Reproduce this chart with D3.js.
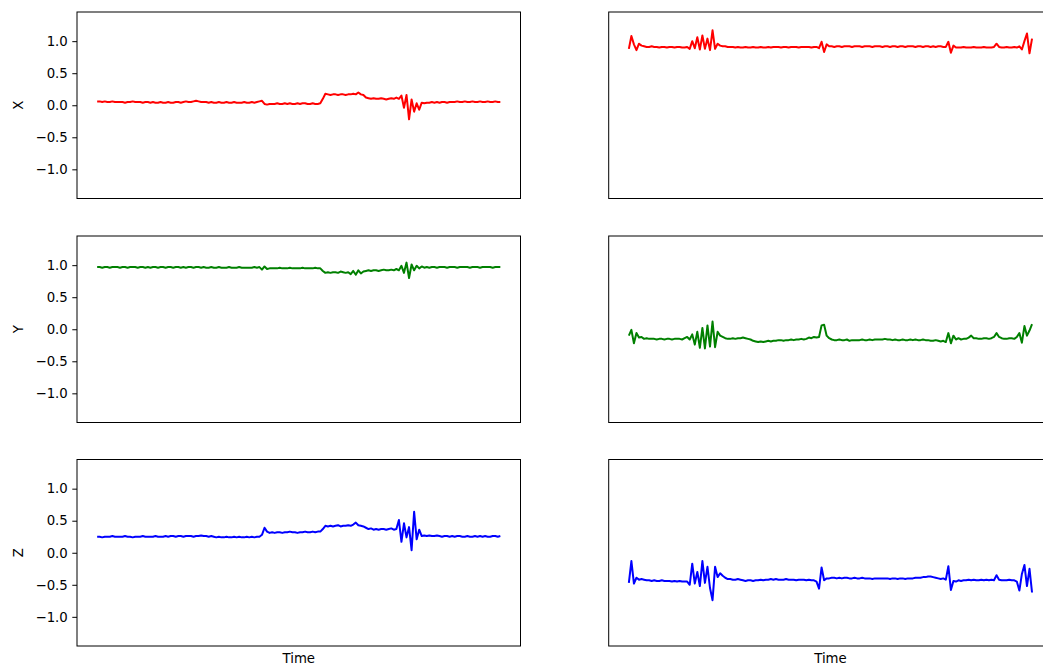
<!DOCTYPE html>
<html>
<head>
<meta charset="utf-8">
<script src="https://cdn.jsdelivr.net/npm/d3@7"></script>
<style>
  body { margin: 0; background: #fff; }
  svg { display: block; font-family: "DejaVu Sans", sans-serif; }
</style>
</head>
<body>
<svg id="chart" width="1043" height="666"></svg>
<script>
// accelerometer traces, two recordings side by side
const axisNames = ["X", "Y", "Z"]
const colors = ["#ff0000", "#008000", "#0000ff"]
const yTicks = [-1.0, -0.5, 0.0, 0.5, 1.0]

const leftX = [
  0.06,0.06,0.05,0.06,0.05,0.05,0.06,0.05,0.05,0.05,
  0.05,0.04,0.05,0.05,0.06,0.05,0.05,0.05,0.04,0.05,
  0.05,0.04,0.05,0.04,0.04,0.05,0.04,0.04,0.05,0.04,
  0.04,0.05,0.05,0.04,0.05,0.06,0.05,0.05,0.06,0.07,
  0.06,0.05,0.05,0.05,0.04,0.05,0.04,0.04,0.05,0.04,
  0.04,0.05,0.04,0.04,0.05,0.04,0.04,0.04,0.05,0.04,
  0.04,0.05,0.04,0.05,0.06,0.07,0.02,0.01,0.02,0.02,
  0.02,0.03,0.02,0.02,0.03,0.02,0.03,0.02,0.02,0.03,
  0.02,0.03,0.03,0.02,0.02,0.03,0.02,0.02,0.03,0.10,
  0.18,0.17,0.16,0.17,0.17,0.16,0.17,0.17,0.16,0.17,
  0.17,0.18,0.17,0.20,0.17,0.16,0.12,0.11,0.10,0.11,
  0.10,0.10,0.11,0.10,0.09,0.10,0.11,0.10,0.12,0.10,
  0.15,-0.04,0.16,-0.22,0.09,-0.10,0.03,-0.07,0.04,0.03,
  0.04,0.04,0.05,0.04,0.05,0.04,0.05,0.05,0.04,0.05,
  0.05,0.05,0.06,0.05,0.05,0.06,0.05,0.05,0.06,0.05,
  0.05,0.06,0.05,0.05,0.06,0.05,0.05,0.06,0.05,0.05
]
const leftY = [
  0.97,0.97,0.96,0.97,0.97,0.96,0.97,0.97,0.97,0.96,
  0.97,0.97,0.96,0.97,0.97,0.97,0.96,0.97,0.97,0.96,
  0.97,0.96,0.97,0.97,0.96,0.97,0.97,0.96,0.97,0.97,
  0.96,0.97,0.97,0.96,0.97,0.96,0.97,0.97,0.96,0.97,
  0.97,0.96,0.97,0.96,0.96,0.97,0.96,0.96,0.97,0.96,
  0.96,0.96,0.97,0.96,0.96,0.96,0.97,0.96,0.96,0.96,
  0.96,0.96,0.97,0.96,0.97,0.93,0.98,0.94,0.95,0.95,
  0.95,0.95,0.96,0.95,0.95,0.95,0.96,0.95,0.95,0.95,
  0.95,0.96,0.95,0.95,0.95,0.95,0.96,0.95,0.95,0.91,
  0.88,0.89,0.88,0.89,0.89,0.88,0.90,0.89,0.88,0.89,
  0.86,0.91,0.85,0.92,0.87,0.90,0.91,0.92,0.91,0.92,
  0.92,0.91,0.92,0.93,0.92,0.92,0.93,0.92,0.94,0.92,
  0.99,0.88,1.04,0.80,1.01,0.92,0.99,0.95,0.98,0.96,
  0.97,0.96,0.97,0.97,0.96,0.97,0.97,0.97,0.96,0.97,
  0.97,0.97,0.96,0.97,0.97,0.97,0.97,0.96,0.97,0.97,
  0.97,0.96,0.97,0.97,0.97,0.97,0.96,0.97,0.97,0.97
]
const leftZ = [
  0.25,0.25,0.24,0.25,0.25,0.25,0.26,0.25,0.25,0.25,
  0.25,0.26,0.25,0.25,0.24,0.25,0.25,0.25,0.26,0.25,
  0.25,0.25,0.25,0.26,0.25,0.25,0.25,0.26,0.25,0.26,
  0.26,0.25,0.26,0.26,0.25,0.26,0.26,0.26,0.25,0.26,
  0.26,0.27,0.26,0.26,0.25,0.26,0.25,0.24,0.25,0.24,
  0.24,0.25,0.24,0.24,0.25,0.24,0.25,0.24,0.24,0.25,
  0.24,0.25,0.24,0.25,0.25,0.28,0.39,0.33,0.31,0.32,
  0.31,0.32,0.32,0.31,0.32,0.32,0.33,0.32,0.32,0.31,
  0.32,0.32,0.33,0.32,0.32,0.33,0.32,0.33,0.33,0.37,
  0.42,0.41,0.42,0.41,0.42,0.43,0.41,0.42,0.42,0.43,
  0.42,0.44,0.47,0.43,0.42,0.41,0.39,0.37,0.38,0.36,
  0.37,0.36,0.37,0.37,0.36,0.37,0.38,0.36,0.37,0.51,
  0.17,0.46,0.24,0.40,0.04,0.64,0.21,0.36,0.26,0.27,
  0.26,0.27,0.26,0.26,0.27,0.26,0.25,0.26,0.26,0.25,
  0.26,0.25,0.26,0.26,0.25,0.25,0.26,0.25,0.25,0.26,
  0.25,0.26,0.25,0.26,0.25,0.25,0.26,0.26,0.25,0.26
]

const rightX = [
  0.88,1.08,0.95,0.86,0.96,0.93,0.92,0.91,0.91,0.92,
  0.91,0.91,0.90,0.91,0.91,0.90,0.91,0.91,0.90,0.91,
  0.91,0.90,0.90,0.91,0.88,1.00,0.89,1.06,0.87,1.09,
  0.88,1.04,0.86,1.17,0.88,0.96,0.93,0.92,0.92,0.91,
  0.91,0.91,0.90,0.91,0.90,0.90,0.91,0.90,0.90,0.91,
  0.90,0.90,0.91,0.90,0.90,0.91,0.90,0.91,0.91,0.91,
  0.90,0.91,0.91,0.90,0.91,0.91,0.91,0.90,0.91,0.91,
  0.91,0.91,0.90,0.91,0.91,0.89,0.99,0.83,0.95,0.92,
  0.92,0.91,0.92,0.92,0.91,0.92,0.92,0.92,0.91,0.92,
  0.92,0.92,0.91,0.92,0.92,0.92,0.91,0.92,0.92,0.92,
  0.91,0.92,0.92,0.91,0.92,0.92,0.91,0.92,0.92,0.91,
  0.92,0.92,0.92,0.91,0.92,0.92,0.91,0.92,0.92,0.91,
  0.92,0.91,0.92,0.92,0.91,0.91,0.99,0.82,0.93,0.90,
  0.90,0.90,0.91,0.90,0.90,0.90,0.91,0.90,0.90,0.90,
  0.91,0.90,0.90,0.90,0.91,0.96,0.91,0.90,0.90,0.91,
  0.90,0.90,0.91,0.90,0.92,0.87,1.00,1.12,0.81,1.04
]
const rightY = [
  -0.10,-0.01,-0.22,-0.06,-0.13,-0.12,-0.15,-0.14,-0.15,-0.15,
  -0.15,-0.16,-0.15,-0.15,-0.16,-0.15,-0.15,-0.16,-0.15,-0.15,
  -0.15,-0.16,-0.14,-0.12,-0.16,-0.08,-0.24,-0.04,-0.29,0.02,
  -0.30,0.06,-0.27,0.12,-0.28,-0.04,-0.10,-0.12,-0.14,-0.15,
  -0.15,-0.14,-0.15,-0.14,-0.14,-0.13,-0.14,-0.15,-0.16,-0.18,
  -0.19,-0.20,-0.19,-0.20,-0.19,-0.18,-0.19,-0.18,-0.18,-0.17,
  -0.17,-0.18,-0.17,-0.17,-0.16,-0.17,-0.16,-0.16,-0.15,-0.16,
  -0.15,-0.13,-0.14,-0.12,-0.13,-0.12,0.06,0.07,-0.10,-0.14,
  -0.16,-0.17,-0.17,-0.16,-0.17,-0.17,-0.16,-0.18,-0.17,-0.17,
  -0.17,-0.17,-0.16,-0.17,-0.17,-0.16,-0.17,-0.16,-0.16,-0.16,
  -0.16,-0.15,-0.16,-0.16,-0.17,-0.16,-0.17,-0.17,-0.16,-0.17,
  -0.17,-0.16,-0.17,-0.16,-0.17,-0.17,-0.16,-0.17,-0.17,-0.18,
  -0.18,-0.17,-0.18,-0.19,-0.18,-0.20,-0.06,-0.22,-0.10,-0.16,
  -0.14,-0.16,-0.15,-0.15,-0.13,-0.10,-0.14,-0.14,-0.15,-0.15,
  -0.14,-0.14,-0.15,-0.14,-0.12,-0.06,-0.12,-0.14,-0.15,-0.15,
  -0.14,-0.14,-0.15,-0.12,-0.06,-0.21,0.05,-0.10,-0.02,0.08
]
const rightZ = [
  -0.47,-0.13,-0.48,-0.39,-0.42,-0.41,-0.42,-0.43,-0.43,-0.44,
  -0.43,-0.44,-0.44,-0.43,-0.44,-0.44,-0.44,-0.45,-0.44,-0.45,
  -0.44,-0.45,-0.45,-0.45,-0.50,-0.17,-0.48,-0.30,-0.52,-0.13,
  -0.47,-0.22,-0.55,-0.74,-0.22,-0.38,-0.32,-0.36,-0.39,-0.41,
  -0.41,-0.42,-0.42,-0.41,-0.42,-0.43,-0.44,-0.43,-0.43,-0.44,
  -0.43,-0.43,-0.42,-0.43,-0.42,-0.42,-0.41,-0.42,-0.41,-0.42,
  -0.42,-0.42,-0.41,-0.42,-0.42,-0.42,-0.43,-0.42,-0.42,-0.42,
  -0.43,-0.42,-0.43,-0.43,-0.45,-0.56,-0.23,-0.43,-0.40,-0.40,
  -0.39,-0.39,-0.40,-0.39,-0.40,-0.39,-0.39,-0.40,-0.40,-0.39,
  -0.40,-0.40,-0.39,-0.40,-0.40,-0.40,-0.41,-0.40,-0.40,-0.40,
  -0.40,-0.40,-0.40,-0.41,-0.40,-0.40,-0.41,-0.40,-0.40,-0.41,
  -0.40,-0.40,-0.40,-0.39,-0.39,-0.39,-0.38,-0.38,-0.37,-0.37,
  -0.38,-0.39,-0.40,-0.41,-0.40,-0.42,-0.21,-0.58,-0.44,-0.45,
  -0.43,-0.44,-0.43,-0.43,-0.42,-0.43,-0.42,-0.43,-0.43,-0.42,
  -0.43,-0.42,-0.43,-0.42,-0.43,-0.35,-0.42,-0.43,-0.43,-0.43,
  -0.42,-0.43,-0.43,-0.45,-0.59,-0.33,-0.19,-0.52,-0.25,-0.62
]

const series = [[leftX, rightX], [leftY, rightY], [leftZ, rightZ]]

const svg = d3.select("#chart")

// panel layout (matplotlib 3x2 grid, sharey)
const colLeft = [77, 608.7]
const panelW = 443.5
const rowTop = [12, 236, 459.5]
const panelH = 186.5

const y = d3.scaleLinear().domain([-1.455, 1.455])

const line = (xs, ys) => d3.line()
  .x((d, i) => xs(i))
  .y(d => ys(d))

series.forEach((pair, r) => {
  const ys = y.copy().range([rowTop[r] + panelH, rowTop[r]])

  pair.forEach((vals, c) => {
    const n = vals.length - 1
    const xs = d3.scaleLinear()
      .domain([-0.05 * n, 1.05 * n])
      .range([colLeft[c], colLeft[c] + panelW])

    const g = svg.append("g")

    g.append("path")
      .datum(vals)
      .attr("d", line(xs, ys))
      .attr("fill", "none")
      .attr("stroke", colors[r])
      .attr("stroke-width", 2)
      .attr("stroke-linejoin", "round")

    g.append("rect")
      .attr("x", colLeft[c])
      .attr("y", rowTop[r])
      .attr("width", panelW)
      .attr("height", panelH)
      .attr("fill", "none")
      .attr("stroke", "#000")
      .attr("stroke-width", 1)

    // y ticks only on left column
    if (c === 0) {
      const ax = g.append("g")
        .attr("transform", `translate(${colLeft[c]},0)`)
        .call(d3.axisLeft(ys).tickValues(yTicks).tickSizeOuter(0).tickSize(4.7).tickPadding(4.5)
          .tickFormat(d => d3.format(".1f")(d).replace("-", "\u2212")))
      ax.select(".domain").remove()
      ax.selectAll("text")
        .attr("font-size", 13.3)
        .attr("font-family", "DejaVu Sans, sans-serif")
        .attr("fill", "#000")
      ax.selectAll("line").attr("stroke", "#000").attr("stroke-width", 1)

      g.append("text")
        .attr("transform", `translate(23,${rowTop[r] + panelH / 2}) rotate(-90)`)
        .attr("text-anchor", "middle")
        .attr("font-size", 13.3)
        .text(axisNames[r])
    }

    if (r === 2) {
      g.append("text")
        .attr("x", colLeft[c] + panelW / 2)
        .attr("y", 663)
        .attr("text-anchor", "middle")
        .attr("font-size", 13.3)
        .text("Time")
    }
  })
})
</script>
</body>
</html>
